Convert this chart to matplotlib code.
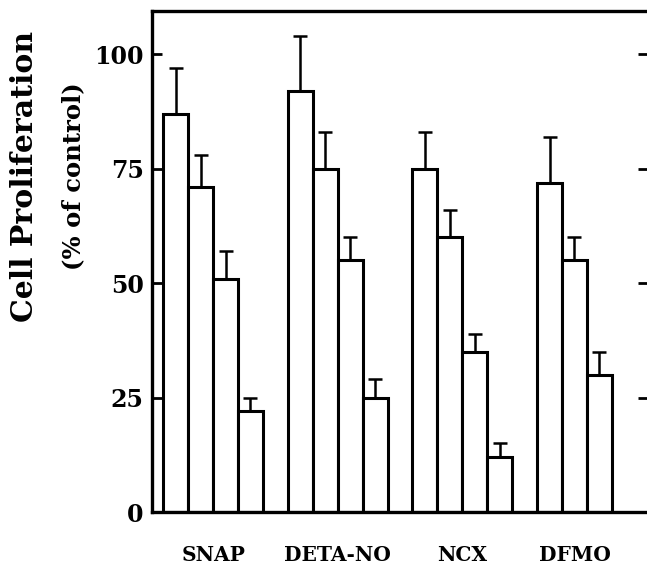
import matplotlib
matplotlib.use("Agg")
import matplotlib.pyplot as plt
import numpy as np

groups = ["SNAP", "DETA-NO", "NCX", "DFMO"]
# bar means per group (percent of control)
snap_vals = [87, 71, 51, 22]
deta_vals = [92, 75, 55, 25]
ncx_vals = [75, 60, 35, 12]
dfmo_vals = [72, 55, 30]
# top of error bar per group
snap_err_top = [97, 78, 57, 25]
deta_err_top = [104, 83, 60, 29]
ncx_err_top = [83, 66, 39, 15]
dfmo_err_top = [82, 60, 35]

yticks = [0, 25, 50, 75, 100]

values = [snap_vals, deta_vals, ncx_vals, dfmo_vals]
err_tops = [snap_err_top, deta_err_top, ncx_err_top, dfmo_err_top]

serif = ["DejaVu Serif"]

fig = plt.figure(figsize=(6.47, 5.70), dpi=100)
ax = fig.add_axes([152/647, 1 - 512/570, (648 - 152)/647, (512 - 11)/570])

label_pos = []
for g, (vals, tops) in enumerate(zip(values, err_tops)):
    xs = np.arange(len(vals)) + g * 5
    vals = np.array(vals, dtype=float)
    tops = np.array(tops, dtype=float)
    ax.errorbar(xs, vals, yerr=[np.zeros_like(vals), tops - vals], fmt="none",
                ecolor="black", elinewidth=1.8, capsize=5, capthick=1.8, zorder=1)
    ax.bar(xs, vals, width=1.0, color="white", edgecolor="black", linewidth=2.2, zorder=2)
    label_pos.append(xs.mean())

ax.set_xlim(-0.95, 18.95)
ax.set_ylim(0, 109.5)
ax.set_yticks(yticks)
ax.set_yticklabels([str(t) for t in yticks], fontfamily=serif, fontweight="bold", fontsize=17)
ax.set_xticks(label_pos)
ax.set_xticklabels(groups, fontfamily=serif, fontweight="bold", fontsize=14.5)
ax.tick_params(axis="x", length=0, pad=24)
ax.tick_params(axis="y", direction="in", length=7, width=2, pad=6, right=True)

for s in ["left", "bottom", "top"]:
    ax.spines[s].set_linewidth(2.4)
ax.spines["right"].set_visible(False)

fig.text(25/647, 1 - 176/570, "Cell Proliferation", rotation=90, ha="center", va="center",
         fontfamily=serif, fontweight="bold", fontsize=21.5)
fig.text(73/647, 1 - 176/570, "(% of control)", rotation=90, ha="center", va="center",
         fontfamily=serif, fontweight="bold", fontsize=17.5)

fig.savefig("out.png", dpi=100)
